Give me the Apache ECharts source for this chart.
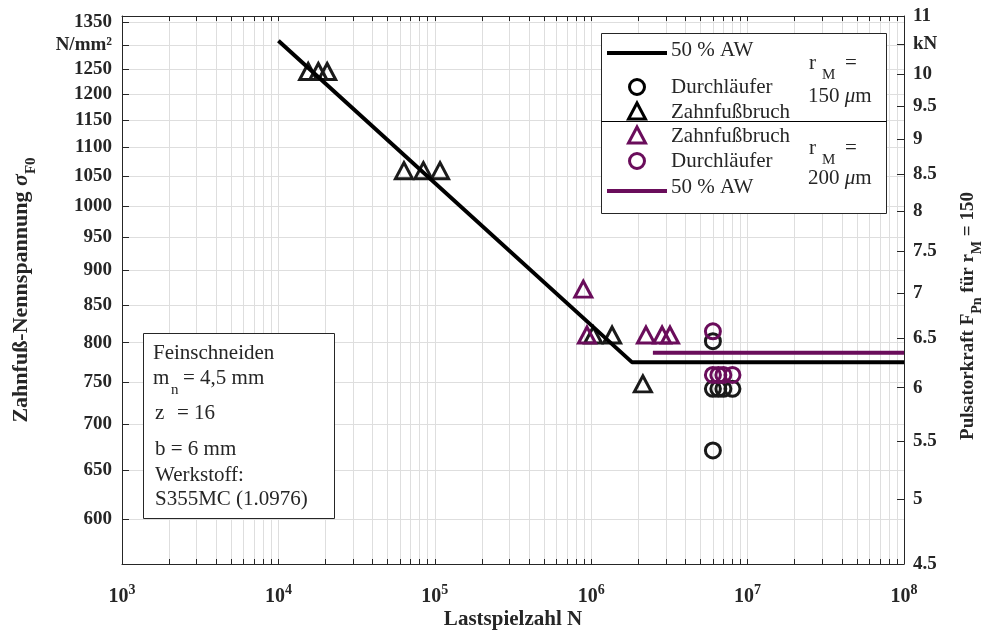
<!DOCTYPE html>
<html><head><meta charset="utf-8">
<script src="https://cdn.jsdelivr.net/npm/echarts@6/dist/echarts.min.js"></script>
<style>html,body{margin:0;padding:0;background:#fff;overflow:hidden}#c{width:987px;height:630px}</style>
</head><body><div id="c"></div>
<script>
// ---- data (N = load cycles, S = nominal root stress in N/mm²) ----
const tri150_N = [15500, 18000, 20500, 63500, 84500, 108000, 1030000, 1360000, 2140000];
const tri150_S = [1245, 1245, 1245, 1059, 1059, 1059, 810, 810, 748];
const circ150_N = [6000000, 6000000, 6500000, 7000000, 8000000, 6000000];
const circ150_S = [802, 742, 742, 742, 742, 671];
const tri200_N = [890000, 940000, 2240000, 2840000, 3190000];
const tri200_S = [873, 810, 810, 810, 810];
const circ200_N = [6000000, 6000000, 6500000, 7000000, 8000000];
const circ200_S = [815, 759, 759, 759, 759];
const aw150_N = [10000, 1820000, 100000000];
const aw150_S = [1309, 775, 775];
const aw200_N = [2480000, 100000000];
const aw200_S = [787, 787];

// tick labels
const xDecades = [3, 4, 5, 6, 7, 8];
const leftTicks = [600, 650, 700, 750, 800, 850, 900, 950, 1000, 1050, 1100, 1150, 1200, 1250, 1300, 1350];
const rightTicks = [4.5, 5, 5.5, 6, 6.5, 7, 7.5, 8, 8.5, 9, 9.5, 10, 10.5, 11];
const leftUnitAt = 1300, leftUnit = 'N/mm²';
const rightUnitAt = 10.5, rightUnit = 'kN';
const rightMin = 4.5, rightMax = 11;
const leftMax = 1363, leftMin = leftMax * rightMin / rightMax;

// ---- helpers ----
const L = Math.log10;
const pts = (xs, ys) => xs.map((x, i) => [L(x), L(ys[i])]);
const xTickVals = [];
for (let d = 3; d < 8; d++) for (let k = 1; k <= 9; k++) xTickVals.push(L(k * Math.pow(10, d)));
xTickVals.push(8);

const FONT = 'Liberation Serif';
const INK = '#262626';
const BLACK = '#000000';
const PURPLE = '#6a0d5b';

const chart = echarts.init(document.getElementById('c'), null, { renderer: 'canvas' });

function subRich(fs, sfs, pad) {
  return {
    a: { fontFamily: FONT, fontSize: fs, fontWeight: 'bold', color: INK, verticalAlign: 'bottom', padding: [0, 0, pad, 0] },
    g: { fontFamily: FONT, fontSize: fs, fontWeight: 'bold', fontStyle: 'italic', color: INK, verticalAlign: 'bottom', padding: [0, 0, pad, 0] },
    s: { fontFamily: FONT, fontSize: sfs, fontWeight: 'bold', color: INK, verticalAlign: 'bottom' }
  };
}

function txt(x, y, text, opts) {
  return Object.assign({ type: 'text', x: x, y: y, z: 20,
    style: Object.assign({ text: text, font: '21px "Liberation Serif"', fill: INK, verticalAlign: 'middle', align: 'left' }, opts || {}) });
}

const graphics = [
  // legend box
  { type: 'rect', z: 19, shape: { x: 601.5, y: 33.5, width: 285, height: 180 }, style: { fill: '#fff', stroke: INK, lineWidth: 1 } },
  { type: 'line', z: 20, shape: { x1: 601.5, y1: 121.5, x2: 886.5, y2: 121.5 }, style: { stroke: BLACK, lineWidth: 1 } },
  { type: 'line', z: 20, shape: { x1: 607, y1: 53, x2: 667, y2: 53 }, style: { stroke: BLACK, lineWidth: 4 } },
  txt(671, 50, '50 % AW'),
  { type: 'circle', z: 20, shape: { cx: 637, cy: 87, r: 7.5 }, style: { fill: 'none', stroke: BLACK, lineWidth: 3 } },
  txt(671, 87, 'Durchläufer'),
  { type: 'polygon', z: 20, shape: { points: [[637, 103], [645.5, 119], [628.5, 119]] }, style: { fill: 'none', stroke: BLACK, lineWidth: 3 } },
  txt(671, 112, 'Zahnfußbruch'),
  { type: 'polygon', z: 20, shape: { points: [[637, 127], [645.5, 143], [628.5, 143]] }, style: { fill: 'none', stroke: PURPLE, lineWidth: 3 } },
  txt(671, 136, 'Zahnfußbruch'),
  { type: 'circle', z: 20, shape: { cx: 637, cy: 161, r: 7.5 }, style: { fill: 'none', stroke: PURPLE, lineWidth: 3 } },
  txt(671, 161, 'Durchläufer'),
  { type: 'line', z: 20, shape: { x1: 607, y1: 191, x2: 667, y2: 191 }, style: { stroke: PURPLE, lineWidth: 4 } },
  txt(671, 187, '50 % AW'),
  txt(809, 63, 'r'), txt(822, 75, 'M', { font: '15px "Liberation Serif"' }), txt(845, 63, '='),
  txt(808, 96, '{a|150 }{i|μ}{a|m}', { rich: { a: { fontFamily: FONT, fontSize: 21, color: INK }, i: { fontFamily: FONT, fontSize: 21, fontStyle: 'italic', color: INK } } }),
  txt(809, 148, 'r'), txt(822, 160, 'M', { font: '15px "Liberation Serif"' }), txt(845, 148, '='),
  txt(808, 178, '{a|200 }{i|μ}{a|m}', { rich: { a: { fontFamily: FONT, fontSize: 21, color: INK }, i: { fontFamily: FONT, fontSize: 21, fontStyle: 'italic', color: INK } } }),
  // parameter box
  { type: 'rect', z: 19, shape: { x: 143.5, y: 333.5, width: 191, height: 185 }, style: { fill: '#fff', stroke: INK, lineWidth: 1 } },
  txt(153, 353, 'Feinschneiden'),
  txt(153, 378, 'm'), txt(171, 390, 'n', { font: '15px "Liberation Serif"' }), txt(183, 378, '= 4,5 mm'),
  txt(155, 413, 'z'), txt(177, 413, '= 16'),
  txt(155, 449, 'b = 6 mm'),
  txt(155, 475, 'Werkstoff:'),
  txt(155, 499, 'S355MC (1.0976)')
];

const scatterStyle = (color) => ({ color: 'rgba(0,0,0,0)', borderColor: color, borderWidth: 3, opacity: 1 });

const option = {
  animation: false,
  backgroundColor: '#ffffff',
  grid: { left: 122, right: 83, top: 16, bottom: 66, containLabel: false, outerBoundsMode: 'none' },
  xAxis: [
    {
      type: 'value', min: 3, max: 8, position: 'bottom',
      axisLine: { show: true, onZero: false, lineStyle: { color: INK, width: 1 } },
      axisTick: { show: true, inside: true, length: 5, customValues: xTickVals, lineStyle: { color: INK } },
      axisLabel: {
        customValues: xDecades, margin: 19,
        formatter: v => '{b|10}{p|' + Math.round(v) + '}',
        rich: {
          b: { fontFamily: FONT, fontSize: 20, fontWeight: 'bold', color: INK, verticalAlign: 'bottom' },
          p: { fontFamily: FONT, fontSize: 14, fontWeight: 'bold', color: INK, verticalAlign: 'bottom', padding: [0, 0, 10, 0] }
        }
      },
      splitLine: { show: true, lineStyle: { color: '#dedede', width: 1 } },
      name: 'Lastspielzahl N', nameLocation: 'middle', nameGap: 45, nameMoveOverlap: false,
      nameTextStyle: { fontFamily: FONT, fontSize: 21, fontWeight: 'bold', color: INK }
    },
    {
      type: 'value', min: 3, max: 8, position: 'top',
      axisLine: { show: true, onZero: false, lineStyle: { color: INK, width: 1 } },
      axisTick: { show: true, inside: true, length: 5, customValues: xTickVals, lineStyle: { color: INK } },
      axisLabel: { show: false }, splitLine: { show: false }
    }
  ],
  yAxis: [
    {
      type: 'value', min: L(leftMin), max: L(leftMax), position: 'left',
      axisLine: { show: true, onZero: false, lineStyle: { color: INK, width: 1 } },
      axisTick: { show: true, inside: true, length: 7, customValues: leftTicks.map(L), lineStyle: { color: INK } },
      axisLabel: {
        customValues: leftTicks.map(L), margin: 10,
        formatter: v => { const r = Math.round(Math.pow(10, v)); return r === leftUnitAt ? leftUnit : String(r); },
        fontFamily: FONT, fontSize: 19, fontWeight: 'bold', color: INK
      },
      splitLine: { show: true, lineStyle: { color: '#dedede', width: 1 } },
      name: '{a|Zahnfuß-Nennspannung }{g|σ}{s|F0}', nameLocation: 'middle', nameGap: 83,
      nameTextStyle: { rich: subRich(22, 15, 7) }
    },
    {
      type: 'value', min: L(rightMin), max: L(rightMax), position: 'right',
      axisLine: { show: true, onZero: false, lineStyle: { color: INK, width: 1 } },
      axisTick: { show: true, inside: true, length: 7, customValues: rightTicks.map(L), lineStyle: { color: INK } },
      axisLabel: {
        customValues: rightTicks.map(L), margin: 9,
        formatter: v => { const r = Math.round(Math.pow(10, v) * 10) / 10; return r === rightUnitAt ? rightUnit : String(r); },
        fontFamily: FONT, fontSize: 19, fontWeight: 'bold', color: INK
      },
      splitLine: { show: false },
      name: '{a|Pulsatorkraft F}{s|Pn}{a| für r}{s|M}{a| = 150}', nameLocation: 'middle', nameGap: 55,
      nameTextStyle: { rich: subRich(19, 14, 6), padding: [0, 52, 0, 0] }
    }
  ],
  series: [
    { name: '50 % AW (r_M = 150 µm)', type: 'line', data: pts(aw150_N, aw150_S), showSymbol: false, symbol: 'none',
      lineStyle: { color: BLACK, width: 4 }, itemStyle: { color: BLACK }, z: 3 },
    { name: 'Zahnfußbruch (r_M = 150 µm)', type: 'scatter', data: pts(tri150_N, tri150_S), symbol: 'triangle', symbolSize: [17, 16],
      itemStyle: scatterStyle('#1a1a1a'), z: 2 },
    { name: 'Durchläufer (r_M = 150 µm)', type: 'scatter', data: pts(circ150_N, circ150_S), symbol: 'circle', symbolSize: 15,
      itemStyle: scatterStyle('#1a1a1a'), z: 2 },
    { name: 'Zahnfußbruch (r_M = 200 µm)', type: 'scatter', data: pts(tri200_N, tri200_S), symbol: 'triangle', symbolSize: [17, 16],
      itemStyle: scatterStyle(PURPLE), z: 4 },
    { name: 'Durchläufer (r_M = 200 µm)', type: 'scatter', data: pts(circ200_N, circ200_S), symbol: 'circle', symbolSize: 15,
      itemStyle: scatterStyle(PURPLE), z: 4 },
    { name: '50 % AW (r_M = 200 µm)', type: 'line', data: pts(aw200_N, aw200_S), showSymbol: false, symbol: 'none',
      lineStyle: { color: PURPLE, width: 4 }, itemStyle: { color: PURPLE }, z: 3 }
  ],
  graphic: graphics
};
chart.setOption(option);
</script>
</body></html>
